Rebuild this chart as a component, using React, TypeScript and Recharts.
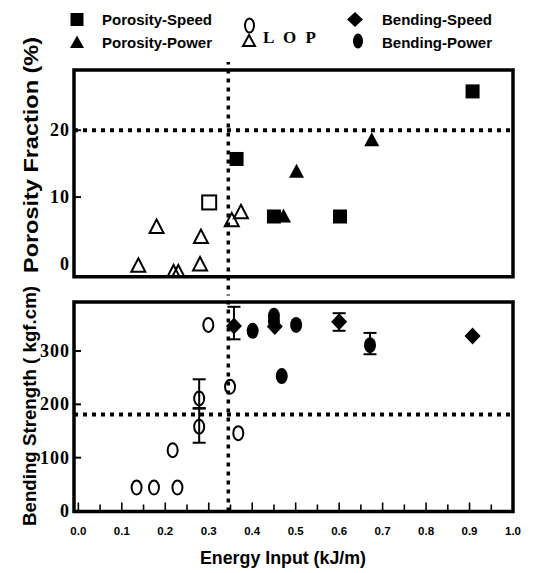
import React from "react"
import { ErrorBar, Label, ReferenceArea, ReferenceLine, Scatter, ScatterChart, XAxis, YAxis } from "recharts"

// energy input (kJ/m) -> porosity fraction (%)
const porositySpeed = [
  { e: 0.364, v: 15.7 },
  { e: 0.45, v: 7.1 },
  { e: 0.602, v: 7.1 },
  { e: 0.907, v: 25.8 },
]
const porosityPower = [
  { e: 0.472, v: 7.1 },
  { e: 0.502, v: 13.8 },
  { e: 0.675, v: 18.5 },
]
const lopPorosity = [
  { e: 0.138, v: -0.2 },
  { e: 0.18, v: 5.6 },
  { e: 0.219, v: -1.2 },
  { e: 0.23, v: -1.2 },
  { e: 0.28, v: 0.0 },
  { e: 0.282, v: 4.1 },
  { e: 0.353, v: 6.6 },
  { e: 0.374, v: 7.8 },
]
const lopPorositySquare = [{ e: 0.301, v: 9.2 }]

// energy input (kJ/m) -> bending strength (kgf.cm), err = [minus, plus]
const lopBending = [
  { e: 0.134, v: 44 },
  { e: 0.174, v: 44 },
  { e: 0.228, v: 44 },
  { e: 0.217, v: 114 },
  { e: 0.278, v: 211, err: [19, 36] },
  { e: 0.278, v: 158, err: [30, 35] },
  { e: 0.299, v: 349 },
  { e: 0.349, v: 233 },
  { e: 0.368, v: 146 },
]
const bendingSpeed = [
  { e: 0.358, v: 347, err: [25, 36] },
  { e: 0.452, v: 346 },
  { e: 0.6, v: 355, err: [17, 16] },
  { e: 0.907, v: 328 },
]
const bendingPower = [
  { e: 0.401, v: 338 },
  { e: 0.45, v: 366 },
  { e: 0.45, v: 356 },
  { e: 0.468, v: 253 },
  { e: 0.501, v: 349 },
  { e: 0.671, v: 311, err: [17, 23] },
]

const energyThreshold = 0.345
const porosityThreshold = 20
const bendingThreshold = 181

const energyTicks = [0, 0.05, 0.1, 0.15, 0.2, 0.25, 0.3, 0.35, 0.4, 0.45, 0.5, 0.55, 0.6, 0.65, 0.7, 0.75, 0.8, 0.85, 0.9, 0.95, 1]
const porosityTicks = [0, 10, 20]
const bendingTicks = [0, 100, 200, 300]

const xDomain = [-0.01, 1]
const porosityDomain = [-1.9, 29]
const bendingDomain = [-1, 392]

const sans = "Liberation Sans, Arial, sans-serif"
const serif = "Liberation Serif, Times New Roman, serif"
const dots = { stroke: "#000", strokeWidth: 4, strokeDasharray: "4 5" }

const FilledSquare = ({ cx, cy }: any) => <rect x={cx - 7} y={cy - 7} width={14} height={14} fill="#000" />
const OpenSquare = ({ cx, cy }: any) => (
  <rect x={cx - 7} y={cy - 7} width={14} height={14} fill="none" stroke="#000" strokeWidth={2} />
)
const FilledTriangle = ({ cx, cy }: any) => (
  <polygon points={`${cx},${cy - 8} ${cx + 7.5},${cy + 6} ${cx - 7.5},${cy + 6}`} fill="#000" />
)
const OpenTriangle = ({ cx, cy }: any) => (
  <polygon points={`${cx},${cy - 7} ${cx + 7},${cy + 6.5} ${cx - 7},${cy + 6.5}`} fill="none" stroke="#000" strokeWidth={2} />
)
const OpenOval = ({ cx, cy }: any) => <ellipse cx={cx} cy={cy} rx={5} ry={7} fill="none" stroke="#000" strokeWidth={2} />
const FilledOval = ({ cx, cy }: any) => <ellipse cx={cx} cy={cy} rx={6} ry={8} fill="#000" />
const FilledDiamond = ({ cx, cy }: any) => (
  <polygon points={`${cx},${cy - 8.5} ${cx + 8},${cy} ${cx},${cy + 8.5} ${cx - 8},${cy}`} fill="#000" />
)

const EnergyTick = ({ x, y, payload }: any) => {
  const v = payload.value
  const major = Math.round(v * 100) % 10 === 0
  return (
    <g>
      <line x1={x} y1={y} x2={x} y2={y - (major ? 9 : 7)} stroke="#000" strokeWidth={1.6} />
      {major && (
        <text x={x} y={y + 19} textAnchor="middle" dominantBaseline="central" fontFamily={sans} fontWeight="bold" fontSize={11.5} fill="#000">
          {v.toFixed(1)}
        </text>
      )}
    </g>
  )
}

const ValueTick = ({ x, y, payload }: any) => (
  <g>
    {payload.value !== 0 && <line x1={x} y1={y} x2={x + 7} y2={y} stroke="#000" strokeWidth={2} />}
    <text x={x - 4} y={y} textAnchor="end" dominantBaseline="central" fontFamily={serif} fontWeight="bold" fontSize={18} letterSpacing={1} fill="#000">
      {payload.value}
    </text>
  </g>
)

const verticalTitle = (text: string, cx: number, cy: number, size: number, length: number) => () => (
  <text
    x={cx}
    y={cy}
    transform={`rotate(-90 ${cx} ${cy})`}
    textAnchor="middle"
    dominantBaseline="central"
    fontFamily={sans}
    fontWeight="bold"
    fontSize={size}
    textLength={length}
    lengthAdjust="spacingAndGlyphs"
    fill="#000"
  >
    {text}
  </text>
)

const LegendBlock = () => (
  <svg width={533} height={60} style={{ position: "absolute", left: 0, top: 0 }}>
    <g fontFamily={sans} fontWeight="bold" fontSize={15} fill="#000">
      <rect x={70.5} y={13} width={13} height={13} fill="#000" />
      <text x={102} y={19} dominantBaseline="central">Porosity-Speed</text>
      <polygon points="77,35.5 84,48 70,48" fill="#000" />
      <text x={102} y={42} dominantBaseline="central">Porosity-Power</text>
      <ellipse cx={249.5} cy={25.5} rx={4.5} ry={7} fill="none" stroke="#000" strokeWidth={2} />
      <polygon points="249,35 255,46 243,46" fill="none" stroke="#000" strokeWidth={2} />
      <text x={263} y={37} dominantBaseline="central" fontFamily={serif} fontSize={17} textLength={53} lengthAdjust="spacing">L O P</text>
      <polygon points="355,12 363,19.5 355,27 347,19.5" fill="#000" />
      <text x={382} y={19} dominantBaseline="central">Bending-Speed</text>
      <ellipse cx={358} cy={41} rx={5} ry={7.5} fill="#000" />
      <text x={382} y={42} dominantBaseline="central">Bending-Power</text>
    </g>
  </svg>
)

const App = () => {
  return (
    <div style={{ position: "absolute", left: 0, top: 0, width: 533, height: 573, background: "#fff" }}>
      <div style={{ position: "absolute", left: 0, top: 0 }}>
        <ScatterChart width={533} height={290} margin={{ top: 70, right: 20, bottom: 13.3, left: 30 }}>
          <XAxis type="number" dataKey="e" domain={xDomain} allowDataOverflow hide />
          <YAxis
            type="number"
            dataKey="v"
            domain={porosityDomain}
            allowDataOverflow
            ticks={porosityTicks}
            interval={0}
            width={44}
            axisLine={false}
            tickLine={false}
            tickSize={0}
            tickMargin={0}
            tick={<ValueTick />}
          >
            <Label content={verticalTitle("Porosity Fraction (%)", 31, 155, 20, 236)} />
          </YAxis>
          <ReferenceArea x1={xDomain[0]} x2={xDomain[1]} y1={porosityDomain[0]} y2={porosityDomain[1]} fill="none" stroke="#000" strokeWidth={3.5} />
          <ReferenceLine y={porosityThreshold} {...dots} />
          <ReferenceLine
            segment={[{ x: energyThreshold, y: -3.8 }, { x: energyThreshold, y: 30.2 }]}
            ifOverflow="visible"
            {...dots}
            strokeWidth={3.5}
          />
          <Scatter data={lopPorosity} shape={OpenTriangle} isAnimationActive={false} />
          <Scatter data={lopPorositySquare} shape={OpenSquare} isAnimationActive={false} />
          <Scatter data={porositySpeed} shape={FilledSquare} isAnimationActive={false} />
          <Scatter data={porosityPower} shape={FilledTriangle} isAnimationActive={false} />
        </ScatterChart>
      </div>
      <div style={{ position: "absolute", left: 0, top: 280 }}>
        <ScatterChart width={533} height={293} margin={{ top: 22, right: 20, bottom: 11.5, left: 30 }}>
          <XAxis
            type="number"
            dataKey="e"
            domain={xDomain}
            allowDataOverflow
            ticks={energyTicks}
            interval={0}
            height={50}
            axisLine={false}
            tickLine={false}
            tickSize={0}
            tickMargin={0}
            tick={<EnergyTick />}
          >
            <Label
              content={() => (
                <text x={283} y={278} textAnchor="middle" dominantBaseline="central" fontFamily={sans} fontWeight="bold" fontSize={18} textLength={166} lengthAdjust="spacingAndGlyphs" fill="#000">
                  Energy Input (kJ/m)
                </text>
              )}
            />
          </XAxis>
          <YAxis
            type="number"
            dataKey="v"
            domain={bendingDomain}
            allowDataOverflow
            ticks={bendingTicks}
            interval={0}
            width={44}
            axisLine={false}
            tickLine={false}
            tickSize={0}
            tickMargin={0}
            tick={<ValueTick />}
          >
            <Label content={verticalTitle("Bending Strength ( kgf.cm)", 29, 126, 19, 240)} />
          </YAxis>
          <ReferenceArea x1={xDomain[0]} x2={xDomain[1]} y1={bendingDomain[0]} y2={bendingDomain[1]} fill="none" stroke="#000" strokeWidth={3.5} />
          <ReferenceLine y={bendingThreshold} {...dots} />
          <ReferenceLine
            segment={[{ x: energyThreshold, y: -1 }, { x: energyThreshold, y: 406 }]}
            ifOverflow="visible"
            {...dots}
            strokeWidth={3.5}
          />
          <Scatter data={lopBending} shape={OpenOval} isAnimationActive={false}>
            <ErrorBar dataKey="err" direction="y" width={6.5} stroke="#000" strokeWidth={2} isAnimationActive={false} />
          </Scatter>
          <Scatter data={bendingPower} shape={FilledOval} isAnimationActive={false}>
            <ErrorBar dataKey="err" direction="y" width={6.5} stroke="#000" strokeWidth={2} isAnimationActive={false} />
          </Scatter>
          <Scatter data={bendingSpeed} shape={FilledDiamond} isAnimationActive={false}>
            <ErrorBar dataKey="err" direction="y" width={6.5} stroke="#000" strokeWidth={2} isAnimationActive={false} />
          </Scatter>
        </ScatterChart>
      </div>
      <LegendBlock />
    </div>
  )
}

export default App
